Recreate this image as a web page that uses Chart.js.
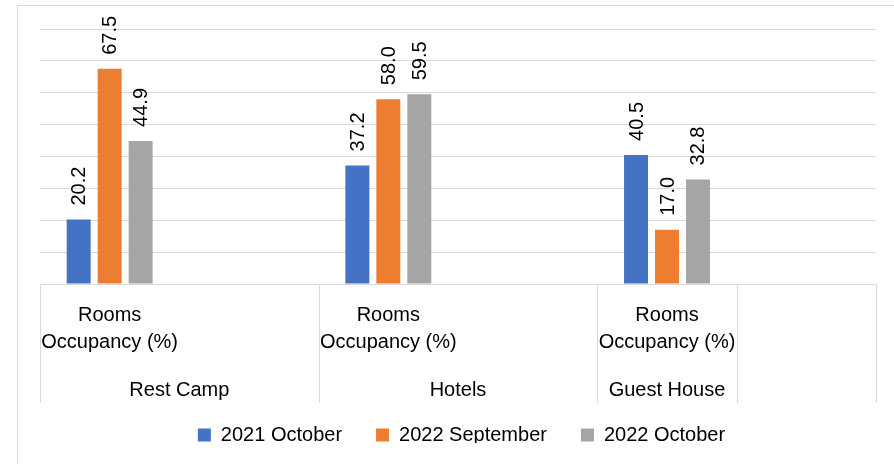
<!DOCTYPE html>
<html><head><meta charset="utf-8">
<script src="https://cdn.jsdelivr.net/npm/chart.js@4"></script>
<style>html,body{margin:0;padding:0;background:#fff;overflow:hidden}</style>
</head><body>
<canvas id="c" width="894" height="464"></canvas>
<script>
// ---- data ----
const categories = ["Rooms Occupancy (%)", "", "Rooms Occupancy (%)", "", "Rooms Occupancy (%)", ""];
const groups = ["Rest Camp", "Rest Camp", "Hotels", "Hotels", "Guest House", ""];
const seriesNames = ["2021 October", "2022 September", "2022 October"];
const oct2021 = [20.2, null, 37.2, null, 40.5, null];
const sep2022 = [67.5, null, 58.0, null, 17.0, null];
const oct2022 = [44.9, null, 59.5, null, 32.8, null];
const yMin = 0, yMax = 80, yStep = 10;

// ---- style ----
const FONT = '"Liberation Sans", Arial, sans-serif';
const GRID = '#d9d9d9';
const colors = ['#4472C4', '#ED7D31', '#A5A5A5'];

const framePlugin = {
  id: 'frame',
  beforeDraw(chart) {
    const ctx = chart.ctx;
    ctx.save();
    ctx.fillStyle = '#fff';
    ctx.fillRect(0, 0, chart.width, chart.height);
    ctx.strokeStyle = GRID;
    ctx.lineWidth = 1;
    ctx.strokeRect(17.5, 5.5, 2000, 2000);
    ctx.restore();
  }
};

const legendShift = {
  id: 'legendShift',
  afterLayout(chart) {
    const lg = chart.legend;
    if (!lg) return;
    lg.top -= 12; lg.bottom -= 12;
    lg.left += 3.5; lg.right += 3.5;
  }
};

const labelPlugin = {
  id: 'barLabels',
  afterDatasetsDraw(chart) {
    const ctx = chart.ctx;
    ctx.save();
    ctx.font = '20px ' + FONT;
    ctx.fillStyle = '#000';
    ctx.textAlign = 'left';
    ctx.textBaseline = 'middle';
    chart.data.datasets.forEach((ds, di) => {
      const meta = chart.getDatasetMeta(di);
      meta.data.forEach((bar, i) => {
        const v = ds.data[i];
        if (v == null) return;
        ctx.save();
        ctx.translate(bar.x + 1, bar.y - 14);
        ctx.rotate(-Math.PI / 2);
        ctx.fillText(v.toFixed(1), 0, 0);
        ctx.restore();
      });
    });
    ctx.restore();
  }
};

const multiAxisPlugin = {
  id: 'multiAxis',
  afterDraw(chart) {
    const ctx = chart.ctx;
    const xs = chart.scales.x;
    const top = chart.chartArea.bottom;
    const bottom = xs.bottom;
    const n = categories.length;
    const w = (xs.right - xs.left) / n;
    const edge = i => xs.left + i * w;
    const runs = [];
    let s = 0;
    for (let i = 1; i <= n; i++) {
      if (i === n || groups[i] !== groups[s]) { runs.push({ name: groups[s], s: s, e: i }); s = i; }
    }
    ctx.save();
    ctx.lineWidth = 1;
    ctx.strokeStyle = GRID;
    const edges = runs.map(r => r.s).concat([n]);
    edges.forEach(k => {
      const x = Math.min(Math.round(edge(k)), chart.width - 1) + 0.5;
      ctx.beginPath(); ctx.moveTo(x, top); ctx.lineTo(x, bottom); ctx.stroke();
    });
    ctx.font = '20px ' + FONT;
    ctx.fillStyle = '#000';
    ctx.textAlign = 'center';
    ctx.textBaseline = 'alphabetic';
    runs.forEach(r => {
      if (!r.name) return;
      ctx.fillText(r.name, (edge(r.s) + edge(r.e)) / 2, bottom - 7);
    });
    ctx.restore();
  }
};

const series = [oct2021, sep2022, oct2022];
new Chart(document.getElementById('c'), {
  type: 'bar',
  data: {
    labels: categories,
    datasets: series.map((d, i) => ({
      label: seriesNames[i],
      data: d,
      backgroundColor: colors[i],
      borderWidth: 0,
      barPercentage: 0.774,
      categoryPercentage: 0.667
    }))
  },
  options: {
    responsive: false,
    animation: false,
    devicePixelRatio: 1,
    layout: { padding: { left: 40, right: 18, top: 29, bottom: 9 } },
    plugins: {
      legend: {
        position: 'bottom',
        maxHeight: 52,
        labels: {
          color: '#000',
          font: { size: 20, family: FONT },
          boxWidth: 13,
          boxHeight: 13,
          padding: 34
        }
      },
      tooltip: { enabled: false }
    },
    scales: {
      y: {
        min: yMin, max: yMax,
        ticks: { display: false, stepSize: yStep },
        grid: { color: GRID, drawTicks: false, lineWidth: 1 },
        border: { display: false }
      },
      x: {
        grid: { display: false, drawTicks: false },
        border: { display: false },
        ticks: {
          color: '#000',
          font: { size: 20, family: FONT, lineHeight: 1.35 },
          padding: 18,
          maxRotation: 0, minRotation: 0, autoSkip: false,
          callback: (v, i) => {
            const t = categories[i];
            if (!t) return '';
            const k = t.indexOf(' ');
            return k < 0 ? t : [t.slice(0, k), t.slice(k + 1)];
          }
        },
        afterFit: (scale) => { scale.height += 29; }
      }
    }
  },
  plugins: [framePlugin, legendShift, labelPlugin, multiAxisPlugin]
});
</script>
</body></html>
